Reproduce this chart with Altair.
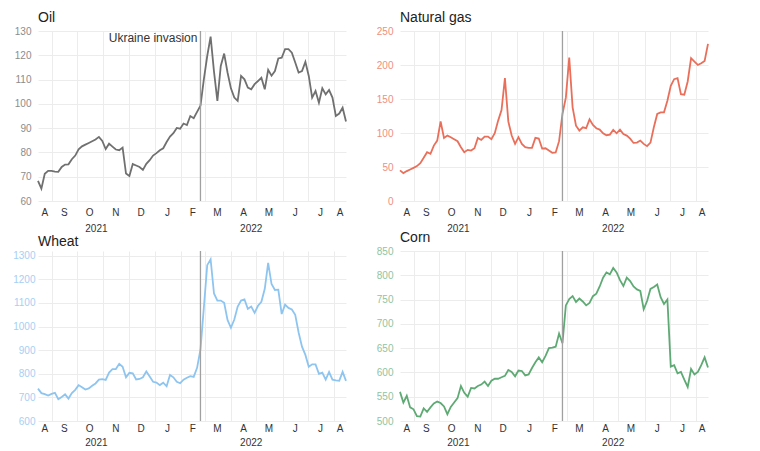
import altair as alt
import pandas as pd

# ---- data ----
dates = pd.date_range("2021-08-16", periods=92, freq="4D").strftime("%Y-%m-%d").tolist()

oil = [68.3, 65.1, 71.2, 72.4, 72.4, 72.1, 72.0, 74.0, 75.0, 75.1,
       77.2, 78.7, 81.3, 82.5, 83.2, 83.9, 84.6, 85.3, 86.4, 84.7,
       81.4, 83.6, 82.4, 81.2, 80.9, 82.0, 71.3, 70.3, 75.2, 74.6,
       74.0, 72.8, 75.3, 76.8, 78.7, 79.7, 80.9, 81.7, 84.3, 86.5,
       87.9, 90.1, 89.8, 91.9, 91.3, 95.0, 94.1, 96.7, 99.2, 110.1,
       119.7, 127.7, 113.3, 101.2, 115.6, 120.7, 112.9, 106.4, 102.6, 101.2,
       111.5, 110.1, 106.7, 106.0, 108.1, 109.4, 110.8, 106.0, 114.0, 111.6,
       113.5, 118.7, 119.0, 122.5, 122.5, 121.1, 117.0, 112.9, 113.5, 117.3,
       111.5, 102.6, 105.3, 100.5, 106.4, 103.9, 105.7, 102.6, 95.0, 96.0,
       98.4, 92.7]

gas = [45, 41, 44, 46.4, 48.8, 51.3, 55.7, 63.5, 71.8, 69.3,
       81.5, 88.9, 117, 92.8, 96.2, 93.8, 90.8, 87.9, 79.1, 71.8,
       75.2, 74.2, 77.6, 92.8, 89.8, 94.7, 94.7, 90.8, 99.6, 118.2,
       133.8, 180.7, 117, 96.2, 84, 93.8, 84, 79.1, 78.1, 78.1,
       92.8, 91.8, 77.1, 77.6, 74.2, 70.8, 71.3, 88, 128, 152,
       211, 137.7, 110.8, 103.5, 108.4, 107, 120, 111.8, 107, 105,
       99.6, 96.7, 97.7, 104.5, 99.6, 105, 98.6, 96.2, 91.8, 85.4,
       85.9, 88.9, 84, 80.6, 85.9, 108.4, 128, 130.4, 130.4, 147.5,
       169.4, 179.2, 180.7, 157.2, 156.3, 175.8, 210, 205, 200, 202.6,
       206, 231]

wheat = [737, 718, 714, 708, 715, 719, 692, 702, 713, 695,
         718, 732, 752, 743, 733, 738, 749, 759, 775, 777,
         774, 805, 820, 820, 842, 830, 785, 804, 802, 776,
         778, 785, 810, 788, 766, 763, 752, 762, 747, 795,
         785, 766, 760, 775, 783, 790, 787, 825, 903, 1080,
         1260, 1285, 1140, 1110, 1110, 1101, 1028, 995, 1030, 1085,
         1110, 1115, 1075, 1085, 1058, 1088, 1105, 1160, 1270, 1180,
         1155, 1156, 1053, 1093, 1079, 1072, 1050, 975, 915, 880,
         830, 840, 840, 800, 805, 775, 808, 775, 772, 770,
         808, 770]

corn = [560, 538, 552, 528, 524, 510, 509, 526, 519, 528,
        536, 540, 537, 530, 514, 529, 538, 547, 572, 558,
        550, 568, 567, 572, 575, 581, 572, 583, 587, 587,
        590, 593, 605, 601, 592, 604, 603, 594, 596, 609,
        621, 631, 621, 634, 650, 651, 653, 680, 660, 738,
        751, 757, 745, 752, 746, 738, 743, 757, 762, 777,
        795, 806, 802, 815, 806, 790, 778, 795, 788, 777,
        771, 768, 730, 747, 772, 776, 781, 755, 741, 750,
        612, 615, 598, 601, 585, 570, 607, 596, 601, 615,
        631, 610]

oil_ticks = [60, 70, 80, 90, 100, 110, 120, 130]
gas_ticks = [0, 50, 100, 150, 200, 250]
wheat_ticks = [600, 700, 800, 900, 1000, 1100, 1200, 1300]
corn_ticks = [500, 550, 600, 650, 700, 750, 800, 850]

month_dates = ["2021-08-24", "2021-09-16", "2021-10-16", "2021-11-16", "2021-12-16",
               "2022-01-16", "2022-02-15", "2022-03-16", "2022-04-16", "2022-05-16",
               "2022-06-16", "2022-07-16", "2022-08-08"]
month_text = ["A", "S", "O", "N", "D", "J", "F", "M", "A", "M", "J", "J", "A"]
year_dates = ["2021-10-24", "2022-04-25"]
year_text = ["2021", "2022"]
invasion_date = "2022-02-24"
invasion_label = "Ukraine invasion"
invasion_label_level = 127

W, H = 308, 170
FONT = "Liberation Sans"
GRID = "#ececec"


def panel(title, values, ticks, domain, line_color, label_color,
          label_pad=7, month_off=12, year_off=28, annotate=False):
    df = pd.DataFrame({"date": dates, "value": values})
    x = alt.X("date:T", scale=alt.Scale(type="utc"),
              axis=alt.Axis(title=None, labels=False, ticks=False, domain=False,
                            grid=True, gridColor=GRID,
                            tickCount=alt.TimeIntervalStep(interval="month", step=1),
                            minExtent=0, maxExtent=0))
    y = alt.Y("value:Q", scale=alt.Scale(domain=domain, nice=False, zero=False),
              axis=alt.Axis(title=None, values=ticks, format="d", labelOverlap=False,
                            labelColor=label_color, labelFontSize=10, labelFont=FONT,
                            ticks=False, tickSize=0, domain=False,
                            labelPadding=label_pad, gridColor=GRID))
    line = alt.Chart(df).mark_line(color=line_color, strokeWidth=1.8).encode(x=x, y=y)
    rule = alt.Chart(pd.DataFrame({"date": [invasion_date]})).mark_rule(
        color="#a0a0a0", strokeWidth=1.3).encode(x=x)
    months = alt.Chart(pd.DataFrame({"date": month_dates, "label": month_text})).mark_text(
        font=FONT, fontSize=10, color="#333333", baseline="middle").encode(
        x=x, y=alt.value(H + month_off), text="label:N")
    years = alt.Chart(pd.DataFrame({"date": year_dates, "label": year_text})).mark_text(
        font=FONT, fontSize=10, color="#333333", baseline="middle").encode(
        x=x, y=alt.value(H + year_off), text="label:N")
    layers = [line, rule, months, years]
    if annotate:
        ann = alt.Chart(pd.DataFrame({"date": [invasion_date],
                                      "value": [invasion_label_level],
                                      "label": [invasion_label]})).mark_text(
            font=FONT, fontSize=12, color="#333333", align="right", dx=-3,
            baseline="middle").encode(x=x, y=y, text="label:N")
        layers.append(ann)
    return alt.layer(*layers).properties(
        width=W, height=H,
        title=alt.TitleParams(title, anchor="start", frame="group", fontSize=14,
                              fontWeight="normal", color="#222222", font=FONT, offset=1))


p_oil = panel("Oil", oil, oil_ticks, [60, 130], "#707070", "#8c8c8c", annotate=True)
p_gas = panel("Natural gas", gas, gas_ticks, [0, 250], "#ea6f5a", "#ef8f80")
p_wheat = panel("Wheat", wheat, wheat_ticks, [600, 1320], "#8ec5f0", "#a6cff3",
                label_pad=3, month_off=8, year_off=22)
p_corn = panel("Corn", corn, corn_ticks, [500, 850], "#5faa74", "#8fc49f",
               month_off=8, year_off=22)

chart = alt.vconcat(
    alt.hconcat(p_oil, p_gas, spacing=26),
    alt.hconcat(p_wheat, p_corn, spacing=26),
    spacing=-3,
).properties(padding={"left": 4, "top": 3, "right": 5, "bottom": 0}
).configure_view(stroke=None)

chart.save("out.html", embed_options={"renderer": "svg", "actions": False})
